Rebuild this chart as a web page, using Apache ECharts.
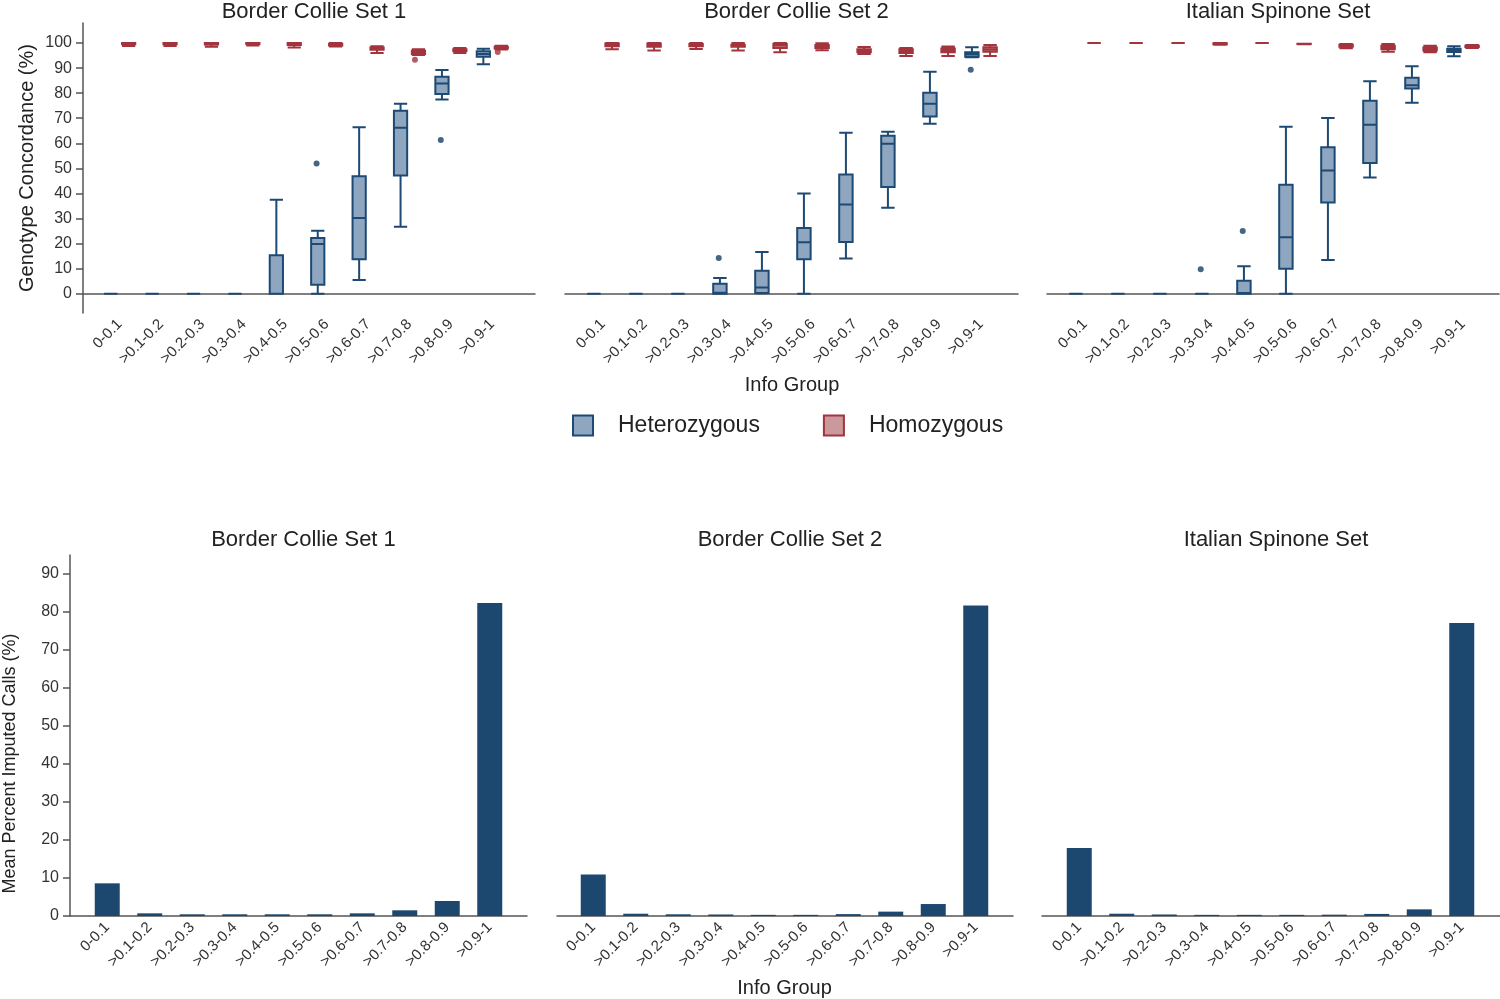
<!DOCTYPE html>
<html>
<head>
<meta charset="utf-8">
<script src="https://cdn.jsdelivr.net/npm/echarts@6/dist/echarts.min.js"></script>
<style>
  html, body { margin: 0; padding: 0; background: #fff; }
  #main { width: 1500px; height: 999px; }
</style>
</head>
<body>
<div id="main"></div>
<script>
var groups = ['0-0.1', '>0.1-0.2', '>0.2-0.3', '>0.3-0.4', '>0.4-0.5', '>0.5-0.6', '>0.6-0.7', '>0.7-0.8', '>0.8-0.9', '>0.9-1'];
var sets = ['Border Collie Set 1', 'Border Collie Set 2', 'Italian Spinone Set'];
var concTicks = [0, 10, 20, 30, 40, 50, 60, 70, 80, 90, 100];
var imputedTicks = [0, 10, 20, 30, 40, 50, 60, 70, 80, 90];

// genotype concordance, each box [min, Q1, median, Q3, max]
var hetBC1 = [[0,0,0,0,0],[0,0,0,0,0],[0,0,0,0,0],[0,0,0,0,0],[0,0,0,15.3,37.5],
  [0,3.6,19.8,22.2,25.1],[5.5,13.7,30.2,46.9,66.4],[26.7,47.2,66.2,73,75.8],[77.5,79.7,83.9,86.6,89.2],[91.5,94.5,95.6,96.7,97.7]];
var homBC1 = [[98.8,99.5,100,100,100],[98.8,99.5,100,100,100],[98.5,99.4,100,100,100],[99,99.6,100,100,100],[98.2,99.2,99.8,100,100],
  [98.6,99,99.4,99.7,100],[96,97.3,97.8,98.2,98.7],[95.2,95.6,96.3,96.9,97.5],[96,96.8,97.2,97.5,98],[97.4,97.8,98.2,98.5,98.9]];
var hetBC2 = [[0,0,0,0,0],[0,0,0,0,0],[0,0,0,0,0],[0,0,0.4,4,6.3],[0.2,0.3,2.5,9.2,16.6],
  [0,13.7,20.5,26.2,40],[14,20.6,35.6,47.6,64.2],[34.3,42.6,59.8,63,64.6],[67.8,70.7,75.8,80.2,88.6],[94.3,94.5,95.5,96.3,98.3]];
var homBC2 = [[97.5,98.7,99.4,99.8,100],[97,98.5,99.3,99.8,100],[97.6,98.7,99.2,99.6,100],[97,98.5,99,99.3,100],[96.3,98,99,99.6,100],
  [97.1,98,98.6,99.2,99.9],[95.6,96.3,97,97.5,98.4],[94.8,96,96.7,97.5,98],[94.8,96.3,97,97.8,98.6],[94.8,96.5,97.4,98.3,99.2]];
var hetIS = [[0,0,0,0,0],[0,0,0,0,0],[0,0,0,0,0],[0,0,0,0,0],[0,0,0.3,5.2,11],
  [0,10,22.5,43.5,66.6],[13.4,36.4,49.2,58.4,70.1],[46.4,52.1,67.4,77,84.8],[76.2,81.9,83.2,86.2,90.7],[94.7,96.4,97.1,97.7,98.7]];
var homIS = [[100,100,100,100,100],[100,100,100,100,100],[100,100,100,100,100],[99.3,99.5,99.7,99.9,100],[100,100,100,100,100],
  [99.5,99.6,99.6,99.7,99.7],[97.9,98.5,98.9,99.3,99.6],[96.5,97.5,98.2,98.9,99.6],[96.3,97,97.6,98.2,98.9],[98,98.4,98.6,98.9,99.2]];

// outliers [group index, value]
var hetOutBC1 = [[5, 51.9], [8, 61.3]];
var homOutBC1 = [[7, 93.3], [9, 96.4]];
var hetOutBC2 = [[3, 14.2], [9, 89.3]];
var homOutBC2 = [];
var hetOutIS = [[3, 9.8], [4, 25]];
var homOutIS = [];

// mean percent imputed calls
var imputedBC1 = [8.6, 0.7, 0.45, 0.45, 0.45, 0.45, 0.7, 1.5, 3.95, 82.4];
var imputedBC2 = [10.9, 0.6, 0.45, 0.4, 0.3, 0.3, 0.5, 1.15, 3.15, 81.7];
var imputedIS = [17.9, 0.6, 0.4, 0.3, 0.3, 0.3, 0.35, 0.55, 1.75, 77.1];

var het = [hetBC1, hetBC2, hetIS];
var hom = [homBC1, homBC2, homIS];
var hetOut = [hetOutBC1, hetOutBC2, hetOutIS];
var homOut = [homOutBC1, homOutBC2, homOutIS];
var imputed = [imputedBC1, imputedBC2, imputedIS];

var FONT = '"Liberation Sans", Arial, sans-serif';
var blue = '#1d4a74', blueFill = '#8ea6c0';
var red = '#a3333c', redFill = '#c9999c';
var barColor = '#1c4870';
var axisCol = '#555';

// panel geometry
var topOuter = [{ left: 83, width: 452 }, { left: 565, width: 453 }, { left: 1047, width: 452 }];
var topInner = [{ left: 99, width: 414 }, { left: 582, width: 420 }, { left: 1064, width: 420 }];
var botOuter = [{ left: 70, width: 457 }, { left: 557, width: 456 }, { left: 1042, width: 458 }];
var botInner = [{ left: 86, width: 425 }, { left: 572, width: 425 }, { left: 1058, width: 425 }];
var topY = { top: 23, height: 290, min: -7.7, max: 108 };
var botY = { top: 555, height: 361, min: 0, max: 95 };

// same offsets ECharts uses for 2 boxplot series in one band
function boxOffsets(bw, n) {
  var avail = bw * 0.8 - 2, gap = avail / n * 0.3, w = avail / n - gap;
  var base = w / 2 - avail / 2, out = [];
  for (var i = 0; i < n; i++) { out.push(base); base += gap + w; }
  return out;
}

var grids = [], xAxes = [], yAxes = [], series = [], titles = [];
var labelStyle = { fontFamily: FONT, fontSize: 15, color: '#333' };

function addOuter(g, yr, showY, yName, nameGap, ticks, namePad) {
  var idx = grids.length;
  grids.push({ left: g.left, width: g.width, top: yr.top, height: yr.height });
  xAxes.push({
    gridIndex: idx, type: 'value', min: 0, max: 1,
    axisLine: { show: true, lineStyle: { color: axisCol, width: 1.5 } },
    axisTick: { show: false }, axisLabel: { show: false }, splitLine: { show: false }
  });
  yAxes.push({
    gridIndex: idx, type: 'value', min: yr.min, max: yr.max, show: showY,
    axisLine: { show: true, lineStyle: { color: axisCol, width: 1.5 } },
    axisTick: { show: true, length: 7, customValues: ticks, lineStyle: { color: axisCol, width: 1.5 } },
    axisLabel: { fontFamily: FONT, fontSize: 16, color: '#333', margin: 11, customValues: ticks },
    splitLine: { show: false },
    name: yName, nameLocation: 'middle', nameGap: nameGap,
    nameTextStyle: { fontFamily: FONT, fontSize: 20, color: '#222', padding: namePad || 0 }
  });
  return idx;
}

function addInner(g, yr, xName) {
  var idx = grids.length;
  grids.push({ left: g.left, width: g.width, top: yr.top, height: yr.height });
  xAxes.push({
    gridIndex: idx, type: 'category', data: groups,
    axisLine: { show: false }, axisTick: { show: false },
    axisLabel: Object.assign({ rotate: 45, margin: 9, interval: 0 }, labelStyle),
    name: xName || '', nameLocation: 'middle', nameGap: 62,
    nameTextStyle: { fontFamily: FONT, fontSize: 20, color: '#222' }
  });
  yAxes.push({ gridIndex: idx, type: 'value', min: yr.min, max: yr.max, show: false, splitLine: { show: false } });
  return idx;
}

for (var p = 0; p < 3; p++) {
  // top: genotype concordance boxplots
  addOuter(topOuter[p], topY, p === 0, p === 0 ? 'Genotype Concordance (%)' : '', 46, concTicks);
  var ti = addInner(topInner[p], topY, p === 1 ? 'Info Group' : '');
  var offs = boxOffsets(topInner[p].width / groups.length, 2);
  series.push({
    name: 'Heterozygous', type: 'boxplot', xAxisIndex: ti, yAxisIndex: ti,
    data: het[p], itemStyle: { color: blueFill, borderColor: blue, borderWidth: 2 },
    emphasis: { disabled: true }
  });
  series.push({
    name: 'Homozygous', type: 'boxplot', xAxisIndex: ti, yAxisIndex: ti,
    data: hom[p], itemStyle: { color: redFill, borderColor: red, borderWidth: 2 },
    emphasis: { disabled: true }
  });
  series.push({
    name: 'hetOutliers', type: 'scatter', xAxisIndex: ti, yAxisIndex: ti,
    data: hetOut[p], symbolSize: 6, symbolOffset: [offs[0], 0],
    itemStyle: { color: '#163e66' }
  });
  series.push({
    name: 'homOutliers', type: 'scatter', xAxisIndex: ti, yAxisIndex: ti,
    data: homOut[p], symbolSize: 6, symbolOffset: [offs[1], 0],
    itemStyle: { color: red }
  });
  titles.push({
    text: sets[p], left: topOuter[p].left + topOuter[p].width / 2, textAlign: 'center', top: -4,
    textStyle: { fontFamily: FONT, fontSize: 22, fontWeight: 'normal', color: '#222' }
  });
}

for (var q = 0; q < 3; q++) {
  // bottom: mean percent imputed calls
  addOuter(botOuter[q], botY, q === 0, q === 0 ? 'Mean Percent Imputed Calls (%)' : '', 51, imputedTicks, [0, 56, 0, 0]);
  yAxes[yAxes.length - 1].nameTextStyle.fontSize = 18;
  var bi = addInner(botInner[q], botY, q === 1 ? 'Info Group' : '');
  series.push({
    name: 'imputed', type: 'bar', xAxisIndex: bi, yAxisIndex: bi,
    data: imputed[q], barWidth: 25, itemStyle: { color: barColor }
  });
  titles.push({
    text: sets[q], left: botOuter[q].left + botOuter[q].width / 2, textAlign: 'center', top: 524,
    textStyle: { fontFamily: FONT, fontSize: 22, fontWeight: 'normal', color: '#222' }
  });
}

var chart = echarts.init(document.getElementById('main'), null, { renderer: 'canvas' });
chart.setOption({
  backgroundColor: '#fff',
  animation: false,
  title: titles,
  legend: {
    left: 567, top: 409, itemWidth: 20, itemHeight: 20, itemGap: 63,
    textStyle: { fontFamily: FONT, fontSize: 23, color: '#222', padding: [0, 0, 0, 20] },
    data: [
      { name: 'Heterozygous', icon: 'rect', itemStyle: { color: blueFill, borderColor: blue, borderWidth: 2 } },
      { name: 'Homozygous', icon: 'rect', itemStyle: { color: redFill, borderColor: red, borderWidth: 2 } }
    ]
  },
  grid: grids,
  xAxis: xAxes,
  yAxis: yAxes,
  series: series
});
</script>
</body>
</html>
